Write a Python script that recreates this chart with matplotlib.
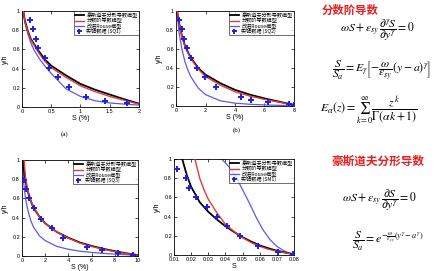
import matplotlib
matplotlib.use("Agg")
import matplotlib.pyplot as plt

plt.rcParams['mathtext.fontset'] = 'stix'
plt.rcParams['font.family'] = ['Liberation Sans', 'DejaVu Sans']

# ---------------- data ----------------
legend_labels = ["豪斯道夫分形导数模型", "分数阶导数模型", "改进Rouse模型"]

# Panel (a) SQ1
p1_data_x = [0.14, 0.19, 0.24, 0.28, 0.39, 0.47, 0.61, 0.81, 1.10, 1.42, 1.79]
p1_data_y = [0.91, 0.81, 0.71, 0.61, 0.51, 0.41, 0.31, 0.21, 0.105, 0.063, 0.039]
p1_black_x = [0.022, 0.05, 0.1, 0.15, 0.2, 0.3, 0.4, 0.5, 0.75, 1.0, 1.25, 1.5, 1.75, 2.0]
p1_black_y = [1.0, 0.9, 0.79, 0.71, 0.66, 0.57, 0.49, 0.43, 0.33, 0.24, 0.18, 0.13, 0.08, 0.035]
p1_red_x = [0.022, 0.05, 0.1, 0.15, 0.2, 0.3, 0.4, 0.5, 0.75, 1.0, 1.25, 1.5, 1.75, 2.0]
p1_red_y = [1.0, 0.89, 0.78, 0.7, 0.65, 0.55, 0.47, 0.41, 0.31, 0.22, 0.16, 0.11, 0.07, 0.03]
p1_blue_x = [0.022, 0.05, 0.1, 0.15, 0.2, 0.3, 0.4, 0.5, 0.75, 1.0, 1.25, 1.5, 1.75, 2.0]
p1_blue_y = [1.0, 0.88, 0.76, 0.67, 0.6, 0.5, 0.42, 0.35, 0.19, 0.11, 0.065, 0.042, 0.03, 0.02]

# Panel (b) SQ2
p2_data_x = [0.22, 0.38, 0.52, 0.75, 1.02, 1.43, 1.98, 2.73, 4.43, 5.11, 6.25, 7.68, 7.97]
p2_data_y = [0.91, 0.81, 0.71, 0.61, 0.505, 0.405, 0.305, 0.2, 0.1, 0.064, 0.04, 0.018, 0.01]
p2_black_x = [0.08, 0.2, 0.4, 0.6, 0.8, 1.0, 1.5, 2.0, 3.0, 4.0, 5.0, 6.0, 7.0, 8.0]
p2_black_y = [1.0, 0.88, 0.74, 0.64, 0.57, 0.51, 0.4, 0.33, 0.24, 0.17, 0.12, 0.08, 0.045, 0.012]
p2_red_x = [0.08, 0.2, 0.4, 0.6, 0.8, 1.0, 1.5, 2.0, 3.0, 4.0, 5.0, 6.0, 7.0, 8.0]
p2_red_y = [1.0, 0.87, 0.73, 0.63, 0.56, 0.5, 0.39, 0.31, 0.22, 0.15, 0.105, 0.07, 0.04, 0.01]
p2_blue_x = [0.08, 0.2, 0.4, 0.6, 0.8, 1.0, 1.5, 2.0, 3.0, 4.0, 5.0, 6.0, 7.0, 8.0]
p2_blue_y = [1.0, 0.78, 0.6, 0.47, 0.38, 0.31, 0.19, 0.12, 0.055, 0.03, 0.018, 0.011, 0.007, 0.004]

# Panel (c) SQ3
p3_data_x = [0.17, 0.34, 0.6, 1.0, 1.6, 2.55, 3.5, 5.6, 6.9, 8.3, 9.6]
p3_data_y = [0.79, 0.70, 0.60, 0.50, 0.39, 0.295, 0.19, 0.097, 0.06, 0.035, 0.015]
p3_black_x = [0.08, 0.2, 0.4, 0.6, 0.8, 1.0, 1.5, 2.0, 3.0, 4.0, 5.0, 6.0, 7.0, 8.0, 9.0, 10.0]
p3_black_y = [1.0, 0.86, 0.72, 0.63, 0.56, 0.5, 0.41, 0.34, 0.25, 0.19, 0.14, 0.105, 0.075, 0.05, 0.028, 0.01]
p3_red_x = [0.18, 0.3, 0.5, 0.75, 1.0, 1.5, 2.0, 3.0, 4.0, 5.0, 6.0, 7.0, 8.0, 9.0, 10.0]
p3_red_y = [1.0, 0.82, 0.68, 0.58, 0.51, 0.41, 0.34, 0.25, 0.185, 0.135, 0.1, 0.07, 0.045, 0.025, 0.008]
p3_blue_x = [0.05, 0.15, 0.3, 0.5, 0.75, 1.0, 1.5, 2.0, 3.0, 4.0, 5.0, 6.0, 7.0, 8.0, 9.0, 10.0]
p3_blue_y = [1.0, 0.76, 0.6, 0.48, 0.37, 0.3, 0.21, 0.16, 0.1, 0.07, 0.05, 0.037, 0.027, 0.02, 0.013, 0.007]

# Panel (d) SM1
p4_data_x = [0.0119, 0.017, 0.0189, 0.0228, 0.0291, 0.0349, 0.0407, 0.0485, 0.0592, 0.0708, 0.0796]
p4_data_y = [0.895, 0.8, 0.7, 0.6, 0.5, 0.4, 0.3, 0.2, 0.095, 0.03, 0.012]
p4_black_x = [0.0148, 0.0175, 0.02, 0.025, 0.03, 0.035, 0.04, 0.045, 0.05, 0.055, 0.06, 0.065, 0.07, 0.075, 0.08]
p4_black_y = [1.0, 0.83, 0.71, 0.55, 0.45, 0.37, 0.3, 0.24, 0.185, 0.14, 0.1, 0.07, 0.045, 0.025, 0.008]
p4_red_x = [0.0222, 0.025, 0.0275, 0.03, 0.035, 0.04, 0.045, 0.05, 0.055, 0.06, 0.065, 0.07, 0.075, 0.08]
p4_red_y = [1.0, 0.8, 0.68, 0.58, 0.44, 0.32, 0.245, 0.18, 0.13, 0.09, 0.06, 0.04, 0.022, 0.008]
p4_blue_x = [0.0378, 0.042, 0.046, 0.05, 0.054, 0.058, 0.062, 0.066, 0.07, 0.074, 0.078, 0.08]
p4_blue_y = [1.0, 0.92, 0.82, 0.68, 0.54, 0.39, 0.26, 0.16, 0.09, 0.045, 0.012, 0.002]

panels = [
    dict(rect=(22, 11, 139, 107), xlim=(0, 2), xticks=[0, 0.5, 1, 1.5, 2],
         xtl=["0", "0.5", "1", "1.5", "2"], xlabel="S (%)", tag="SQ1",
         data=(p1_data_x, p1_data_y), black=(p1_black_x, p1_black_y),
         red=(p1_red_x, p1_red_y), blue=(p1_blue_x, p1_blue_y)),
    dict(rect=(176, 11, 294, 106), xlim=(0, 8), xticks=[0, 2, 4, 6, 8],
         xtl=["0", "2", "4", "6", "8"], xlabel="S (%)", tag="SQ2",
         data=(p2_data_x, p2_data_y), black=(p2_black_x, p2_black_y),
         red=(p2_red_x, p2_red_y), blue=(p2_blue_x, p2_blue_y)),
    dict(rect=(22, 160, 138, 256), xlim=(0, 10), xticks=[0, 2, 4, 6, 8, 10],
         xtl=["0", "2", "4", "6", "8", "10"], xlabel="S (%)", tag="SQ3",
         data=(p3_data_x, p3_data_y), black=(p3_black_x, p3_black_y),
         red=(p3_red_x, p3_red_y), blue=(p3_blue_x, p3_blue_y)),
    dict(rect=(174, 159, 294, 255), xlim=(0.01, 0.08),
         xticks=[0.01, 0.02, 0.03, 0.04, 0.05, 0.06, 0.07, 0.08],
         xtl=["0.01", "0.02", "0.03", "0.04", "0.05", "0.06", "0.07", "0.08"],
         xlabel="S", tag="SM1",
         data=(p4_data_x, p4_data_y), black=(p4_black_x, p4_black_y),
         red=(p4_red_x, p4_red_y), blue=(p4_blue_x, p4_blue_y)),
]
yticks = [0, 0.2, 0.4, 0.6, 0.8, 1]
ytl = ["0", "0.2", "0.4", "0.6", "0.8", "1"]

W, H = 446, 271
fig = plt.figure(figsize=(W / 100, H / 100), dpi=100)
fig.patch.set_facecolor("white")

BLACK = "#000000"
RED = "#e8393a"
BLUE = "#5a5ae6"
MARK = "#1f1fe0"

for p in panels:
    x0, y0, x1, y1 = p["rect"]
    ax = fig.add_axes([x0 / W, 1 - y1 / H, (x1 - x0) / W, (y1 - y0) / H])
    ax.plot(*p["black"], color=BLACK, lw=1.3, label=legend_labels[0], zorder=3)
    ax.plot(*p["red"], color=RED, lw=1.0, label=legend_labels[1], zorder=4)
    ax.plot(*p["blue"], color=BLUE, lw=0.9, label=legend_labels[2], zorder=2)
    ax.plot(*p["data"], ls="none", marker="+", ms=4.5, mew=1.4, color=MARK,
            label="实验数据 (%s)" % p["tag"], zorder=5)
    ax.set_xlim(*p["xlim"])
    ax.set_ylim(0, 1)
    ax.set_xticks(p["xticks"])
    ax.set_xticklabels(p["xtl"])
    ax.set_yticks(yticks)
    ax.set_yticklabels(ytl)
    ax.tick_params(direction="in", length=2, width=0.5, labelsize=4, pad=1.5,
                   top=True, right=True)
    for s in ax.spines.values():
        s.set_linewidth(0.6)
    ax.set_xlabel(p["xlabel"], fontsize=5, labelpad=1)
    ax.set_ylabel("y/h", fontsize=5, labelpad=2)
    leg = ax.legend(loc="upper right", frameon=True, fancybox=False,
                    edgecolor="black", borderpad=0.2, labelspacing=0.0,
                    handlelength=1.7, handletextpad=0.5, borderaxespad=0.08,
                    markerscale=0.8,
                    prop={"family": ["Noto Sans CJK SC"], "size": 3.7})
    leg.get_frame().set_linewidth(0.5)

# sub-figure tags
fig.text(65 / W, 1 - 134 / H, "(a)", fontsize=5, ha="center", va="center",
         family="Liberation Serif")
fig.text(237 / W, 1 - 130 / H, "(b)", fontsize=5, ha="center", va="center",
         family="Liberation Serif")

# right-side headings and formulas
head_kw = dict(color="#e62020", fontweight="bold", family=["Noto Sans CJK SC"],
               ha="center", va="center")
fig.text(350 / W, 1 - 10 / H, "分数阶导数", fontsize=8.2, **head_kw)
fig.text(378 / W, 1 - 161 / H, "豪斯道夫分形导数", fontsize=8.4, **head_kw)

fkw = dict(ha="center", va="center", fontsize=8.5)
fig.text(378 / W, 1 - 30 / H,
         r"$\omega S+\varepsilon_{sy}\,\dfrac{\partial^{\gamma} S}{\partial y^{\gamma}}=0$", **fkw)
fig.text(382 / W, 1 - 70 / H,
         r"$\dfrac{S}{S_a}=E_{\gamma}\left[-\dfrac{\omega}{\varepsilon_{sy}}(y-a)^{\gamma}\right]$", **fkw)
fig.text(369 / W, 1 - 111 / H,
         r"$E_{\alpha}(z)=\sum_{k=0}^{\infty}\dfrac{z^{k}}{\Gamma(\alpha k+1)}$", **fkw)
fig.text(380 / W, 1 - 200 / H,
         r"$\omega S+\varepsilon_{sy}\,\dfrac{\partial S}{\partial y^{\gamma}}=0$", **fkw)
fig.text(388 / W, 1 - 241 / H,
         r"$\dfrac{S}{S_a}=e^{-\frac{\omega}{\varepsilon_{sy}}\left(y^{\gamma}-a^{\gamma}\right)}$", **fkw)

fig.savefig("out.png", dpi=100, facecolor="white")
